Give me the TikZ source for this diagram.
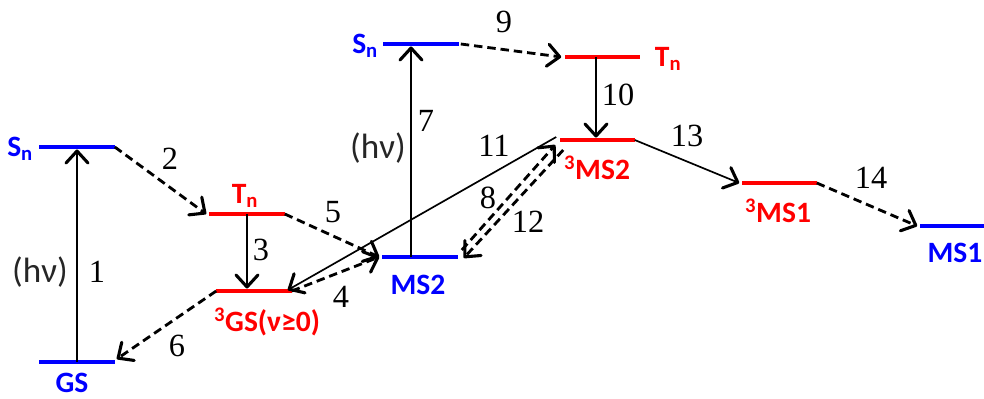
\documentclass[tikz,border=0pt]{standalone}
\usepackage{fontspec}
\setsansfont{Carlito}
\newfontfamily\numfont{Liberation Serif}
\usetikzlibrary{arrows.meta, calc}

\begin{document}
\begin{tikzpicture}[x=0.025cm, y=-0.025cm,
    levelstyle/.style={rectangle, inner sep=0pt, minimum width=1.875cm, minimum height=0.11cm},
    bluelevel/.style={levelstyle, fill=blue},
    redlevel/.style={levelstyle, fill=red},
    solidarrow/.style={-{Straight Barb[length=3mm, width=5.5mm, line width=2.2pt, round]}, line width=1.2pt, black},
    dasharrow/.style={-{Straight Barb[length=3mm, width=5.5mm, line width=2.2pt, round]}, line width=2pt, black,
      dash pattern=on 6pt off 3.5pt},
    numlabel/.style={font=\numfont\fontsize{23}{27}\selectfont},
    bluelabel/.style={text=blue, font=\sffamily\bfseries\fontsize{21}{25}\selectfont},
    redlabel/.style={text=red, font=\sffamily\bfseries\fontsize{21}{25}\selectfont},
    hvlabel/.style={text=black!85, font=\sffamily\fontsize{25}{29}\selectfont}]
  \useasboundingbox (0,0) rectangle (984,399);
  % levels
  \node[bluelevel] (GS) at (77,362) {};
  \node[bluelevel] (Sn1) at (77,147) {};
  \node[redlevel] (Tn1) at (247,214) {};
  \node[redlevel] (GSt) at (254,291) {};
  \node[bluelevel] (MS2) at (420,257) {};
  \node[bluelevel] (Sn2) at (421,44) {};
  \node[redlevel] (Tn2) at (602,57) {};
  \node[redlevel] (MS2t) at (597,140) {};
  \node[redlevel] (MS1t) at (779,183) {};
  \node[bluelevel] (MS1) at (957,226) {};
  \coordinate (t10) at (596,57);
  % level labels
  \node[bluelabel] (lGS) at (72,383) {GS};
  \node[bluelabel, anchor=east] (lSn1) at (38,149) {S\textsubscript{n}};
  \node[redlabel] (lTn1) at (245,196) {T\textsubscript{n}};
  \node[redlabel] (lGSt) at (267,322) {\textsuperscript{3}GS(ν≥0)};
  \node[bluelabel] (lMS2) at (418,285) {MS2};
  \node[bluelabel, anchor=east] (lSn2) at (383,46) {S\textsubscript{n}};
  \node[redlabel, anchor=west] (lTn2) at (650,59) {T\textsubscript{n}};
  \node[redlabel] (lMS2t) at (597,168) {\textsuperscript{3}MS2};
  \node[redlabel] (lMS1t) at (778,211) {\textsuperscript{3}MS1};
  \node[bluelabel] (lMS1) at (955,253) {MS1};
  % transitions
  \draw[solidarrow] (GS.center) -- (Sn1.south);
  \draw[dasharrow] (Sn1.east) -- ($(Tn1.west)+(-3,0)$);
  \draw[solidarrow] (Tn1.center) -- (Tn1 |- GSt.north);
  \draw[dasharrow] (GSt.east) -- ($(MS2.west)+(-3,0)$);
  \draw[dasharrow] (Tn1.east) -- ($(MS2.west)+(-3,0)$);
  \draw[dasharrow] (GSt.west) -- ($(GS.east)+(2,-3)$);
  \draw[solidarrow] ($(MS2.center)+(-9,0)$) -- ($(Sn2.south)+(-10,0)$);
  \draw[dasharrow] ($(MS2.east)+(4,-7)$) -- ($(MS2t.west)+(-4,5)$);
  \draw[solidarrow] (t10) -- (t10 |- MS2t.north);
  \draw[dasharrow] ($(Sn2.east)+(2,0)$) -- ($(Tn2.west)+(-3,0)$);
  \draw[solidarrow] ($(MS2t.west)+(-3,-3)$) -- ($(GSt.east)+(-4,-1)$);
  \draw[dasharrow] ($(MS2t.west)+(4,10)$) -- ($(MS2.east)+(6,1)$);
  \draw[solidarrow] (MS2t.east) -- ($(MS1t.west)+(-2,0)$);
  \draw[dasharrow] (MS1t.east) -- ($(MS1.west)+(-2,0)$);
  % numbers
  \node[hvlabel] (hv1) at (40,272) {(hν)};
  \node[numlabel] (n1) at (97,272) {1};
  \node[numlabel] (n2) at (170,159) {2};
  \node[numlabel] (n3) at (261,250) {3};
  \node[numlabel] (n4) at (341,297) {4};
  \node[numlabel] (n5) at (333,212) {5};
  \node[numlabel] (n6) at (177,346) {6};
  \node[hvlabel] (hv7) at (378,148) {(hν)};
  \node[numlabel] (n7) at (426,121) {7};
  \node[numlabel] (n8) at (488,198) {8};
  \node[numlabel] (n9) at (504,22) {9};
  \node[numlabel] (n10) at (618,95) {10};
  \node[numlabel] (n11) at (494,146) {11};
  \node[numlabel] (n12) at (528,222) {12};
  \node[numlabel] (n13) at (687,136) {13};
  \node[numlabel] (n14) at (871,178) {14};
\end{tikzpicture}
\end{document}
